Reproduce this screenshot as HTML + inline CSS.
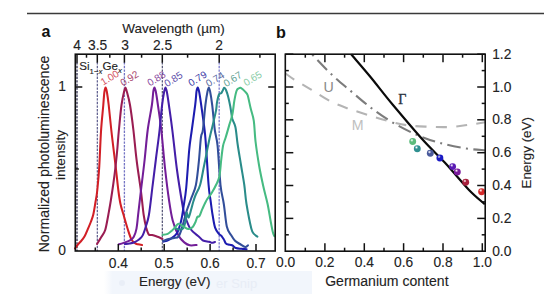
<!DOCTYPE html>
<html><head><meta charset="utf-8"><style>
html,body{margin:0;padding:0;background:#fff;width:547px;height:294px;overflow:hidden}
svg{display:block}
text{font-family:"Liberation Sans", sans-serif}
text.t{stroke:#2a2a2a;stroke-width:0.12px}
</style></head><body><svg width="547" height="294" viewBox="0 0 547 294" font-family='"Liberation Sans", sans-serif'><defs><radialGradient id="g0" cx="0.38" cy="0.32" r="0.7"><stop offset="0" stop-color="#ffffff" stop-opacity="0.85"/><stop offset="0.35" stop-color="#5cbb7c"/><stop offset="1" stop-color="#5cbb7c"/></radialGradient><radialGradient id="g1" cx="0.38" cy="0.32" r="0.7"><stop offset="0" stop-color="#ffffff" stop-opacity="0.85"/><stop offset="0.35" stop-color="#2f9090"/><stop offset="1" stop-color="#2f9090"/></radialGradient><radialGradient id="g2" cx="0.38" cy="0.32" r="0.7"><stop offset="0" stop-color="#ffffff" stop-opacity="0.85"/><stop offset="0.35" stop-color="#4a5a9c"/><stop offset="1" stop-color="#4a5a9c"/></radialGradient><radialGradient id="g3" cx="0.38" cy="0.32" r="0.7"><stop offset="0" stop-color="#ffffff" stop-opacity="0.85"/><stop offset="0.35" stop-color="#1a1ac4"/><stop offset="1" stop-color="#1a1ac4"/></radialGradient><radialGradient id="g4" cx="0.38" cy="0.32" r="0.7"><stop offset="0" stop-color="#ffffff" stop-opacity="0.85"/><stop offset="0.35" stop-color="#5a1ab4"/><stop offset="1" stop-color="#5a1ab4"/></radialGradient><radialGradient id="g5" cx="0.38" cy="0.32" r="0.7"><stop offset="0" stop-color="#ffffff" stop-opacity="0.85"/><stop offset="0.35" stop-color="#7a1a9c"/><stop offset="1" stop-color="#7a1a9c"/></radialGradient><radialGradient id="g6" cx="0.38" cy="0.32" r="0.7"><stop offset="0" stop-color="#ffffff" stop-opacity="0.85"/><stop offset="0.35" stop-color="#a8203c"/><stop offset="1" stop-color="#a8203c"/></radialGradient><radialGradient id="g7" cx="0.38" cy="0.32" r="0.7"><stop offset="0" stop-color="#ffffff" stop-opacity="0.85"/><stop offset="0.35" stop-color="#d42a2a"/><stop offset="1" stop-color="#d42a2a"/></radialGradient></defs><defs><linearGradient id="wmg" x1="0" x2="1" y1="0" y2="0"><stop offset="0" stop-color="#f4f7fc" stop-opacity="0"/><stop offset="0.04" stop-color="#f2f6fc"/><stop offset="1" stop-color="#f2f6fc"/></linearGradient></defs><rect x="104" y="271" width="208" height="23" fill="url(#wmg)"/><circle cx="122" cy="283" r="3" fill="#e9eef7"/><text x="216" y="288" font-size="13" fill="#e8edf6">er Snip</text><line x1="27" y1="13.5" x2="544" y2="13.5" stroke="#3a3a3a" stroke-width="1.4"/><text x="41.6" y="36.7" font-size="16" font-weight="bold" fill="#111">a</text><text x="275.9" y="37.7" font-size="16.2" font-weight="bold" fill="#111">b</text><text x="122.2" y="33.2" font-size="13.5" fill="#222" class="t">Wavelength (µm)</text><line x1="77.0" y1="62.2" x2="77.0" y2="251.0" stroke="#2e2e50" stroke-width="1.3" stroke-dasharray="2.4,1.2"/><line x1="97.3" y1="62.2" x2="97.3" y2="251.0" stroke="#4a4a80" stroke-width="1.1" stroke-dasharray="2.4,1.2"/><line x1="124.4" y1="62.2" x2="124.4" y2="251.0" stroke="#7474c4" stroke-width="1.3" stroke-dasharray="2.4,1.2"/><line x1="162.3" y1="62.2" x2="162.3" y2="251.0" stroke="#404066" stroke-width="1.1" stroke-dasharray="2.4,1.2"/><line x1="219.2" y1="62.2" x2="219.2" y2="251.0" stroke="#8686d2" stroke-width="1.4" stroke-dasharray="2.4,1.2"/><path d="M75.0,248.5 C75.4,247.9 76.5,246.2 77.5,245.0 C78.5,243.8 79.5,242.9 80.7,241.5 C81.9,240.1 83.4,238.4 84.5,236.5 C85.6,234.6 86.5,232.3 87.5,229.9 C88.5,227.5 89.8,224.6 90.8,222.0 C91.8,219.4 92.5,217.7 93.3,214.4 C94.1,211.1 94.8,206.1 95.5,202.0 C96.2,197.9 96.7,196.0 97.3,190.0 C97.9,184.0 98.7,176.0 99.3,166.0 C99.9,156.0 100.4,140.2 101.1,130.0 C101.8,119.8 102.8,111.3 103.3,105.0 C103.8,98.7 104.0,94.9 104.4,92.0 C104.8,89.1 105.2,87.4 105.6,87.4 C106.0,87.4 106.4,89.1 106.9,92.0 C107.4,94.9 108.0,98.7 108.7,105.0 C109.4,111.3 110.2,119.8 111.3,130.0 C112.4,140.2 114.4,156.0 115.6,166.0 C116.8,176.0 117.5,183.7 118.3,190.0 C119.1,196.3 119.6,199.8 120.5,204.0 C121.4,208.2 122.3,210.7 123.6,215.0 C124.8,219.3 126.7,225.9 128.0,230.0 C129.3,234.1 130.3,237.3 131.5,239.5 C132.7,241.7 133.9,242.4 135.0,243.2 C136.1,244.0 136.8,244.0 138.0,244.3 C139.2,244.6 141.3,244.9 142.0,245.0" fill="none" stroke="#d21f26" stroke-width="2.05" stroke-linejoin="round" stroke-linecap="round"/><path d="M97.0,244.0 C97.7,242.9 99.6,239.8 101.0,237.5 C102.4,235.2 104.0,233.8 105.2,230.0 C106.4,226.2 107.3,220.0 108.3,215.0 C109.2,210.0 110.1,205.2 110.9,200.0 C111.7,194.8 112.5,189.7 113.3,184.0 C114.1,178.3 114.9,172.2 115.6,166.0 C116.3,159.8 117.0,153.0 117.5,147.0 C118.0,141.0 118.2,137.0 118.9,130.0 C119.6,123.0 120.6,111.4 121.5,105.0 C122.4,98.6 123.4,94.4 124.1,91.5 C124.8,88.6 125.0,87.4 125.4,87.4 C125.9,87.4 126.0,88.6 126.8,91.5 C127.6,94.4 128.9,98.6 130.0,105.0 C131.1,111.4 132.3,120.8 133.4,130.0 C134.5,139.2 135.3,149.9 136.6,160.0 C137.8,170.1 139.7,181.6 140.9,190.8 C142.1,200.0 142.8,208.8 143.7,215.0 C144.6,221.2 145.5,224.8 146.3,228.0 C147.2,231.2 147.8,233.3 148.8,234.5 C149.8,235.7 150.7,234.6 152.2,235.0 C153.7,235.4 155.9,236.2 157.6,236.8 C159.3,237.4 161.6,238.5 162.4,238.8" fill="none" stroke="#9a1d52" stroke-width="2.05" stroke-linejoin="round" stroke-linecap="round"/><path d="M118.8,244.3 C119.6,244.1 121.7,243.6 123.6,242.9 C125.5,242.2 128.7,241.2 130.4,240.2 C132.1,239.2 132.8,238.7 133.8,236.8 C134.8,234.9 135.8,232.2 136.5,228.6 C137.2,225.0 137.4,221.3 138.1,215.0 C138.8,208.7 139.8,200.0 140.9,190.8 C142.0,181.6 143.5,170.1 144.6,160.0 C145.7,149.9 146.5,139.2 147.7,130.0 C148.9,120.8 151.0,111.4 151.9,105.0 C152.8,98.6 152.9,94.4 153.3,91.5 C153.7,88.6 154.1,87.4 154.5,87.4 C154.9,87.4 155.2,88.6 155.8,91.5 C156.4,94.4 157.0,98.6 157.9,105.0 C158.8,111.4 160.1,119.5 161.3,130.0 C162.5,140.5 163.7,156.3 165.0,168.0 C166.3,179.7 167.7,191.2 169.0,200.0 C170.3,208.8 171.1,214.5 172.7,220.5 C174.3,226.5 176.6,232.1 178.6,235.8 C180.6,239.5 182.7,241.0 184.6,242.6 C186.5,244.2 187.8,244.9 189.8,245.3 C191.8,245.7 195.5,245.1 196.6,245.0" fill="none" stroke="#731e98" stroke-width="2.05" stroke-linejoin="round" stroke-linecap="round"/><path d="M125.0,244.0 C125.8,243.9 127.9,243.8 129.5,243.5 C131.1,243.2 132.9,242.9 134.5,242.2 C136.1,241.5 137.6,240.6 139.0,239.5 C140.4,238.4 141.5,237.7 142.7,235.4 C143.9,233.2 145.0,229.4 146.0,226.0 C147.0,222.6 147.8,221.3 148.9,215.0 C150.0,208.7 151.2,197.2 152.3,188.0 C153.5,178.8 154.6,169.7 155.8,160.0 C157.0,150.3 158.6,139.2 159.6,130.0 C160.6,120.8 161.3,111.4 162.1,105.0 C162.9,98.6 163.6,94.4 164.2,91.5 C164.8,88.6 165.1,87.4 165.5,87.4 C165.9,87.4 166.2,88.6 166.8,91.5 C167.4,94.4 168.0,98.6 168.9,105.0 C169.8,111.4 171.0,119.2 172.3,130.0 C173.7,140.8 175.3,157.3 177.0,170.0 C178.7,182.7 181.4,198.6 182.7,206.3 C184.0,214.0 183.7,212.2 185.0,216.0 C186.3,219.8 188.2,225.6 190.5,229.0 C192.8,232.4 196.9,234.8 199.0,236.7 C201.1,238.6 201.3,239.7 203.0,240.5 C204.7,241.3 207.7,241.4 209.2,241.8 C210.7,242.2 211.0,242.8 212.0,242.8 C213.0,242.8 214.5,242.1 215.0,242.0" fill="none" stroke="#441ea8" stroke-width="2.05" stroke-linejoin="round" stroke-linecap="round"/><path d="M163.4,241.6 C164.0,241.4 165.7,241.1 166.8,240.7 C167.9,240.3 168.4,240.4 170.1,239.2 C171.8,238.0 175.1,236.4 176.9,233.3 C178.8,230.2 180.1,225.0 181.2,220.5 C182.3,216.0 182.8,211.7 183.6,206.3 C184.4,200.9 185.3,197.4 186.2,188.0 C187.1,178.6 188.3,159.7 189.2,150.0 C190.1,140.3 190.8,137.5 191.8,130.0 C192.8,122.5 194.4,111.4 195.2,105.0 C196.0,98.6 196.1,94.4 196.5,91.5 C196.9,88.6 197.4,87.4 197.8,87.4 C198.2,87.4 198.5,88.6 199.1,91.5 C199.7,94.4 200.3,98.6 201.2,105.0 C202.1,111.4 203.8,123.2 204.6,130.0 C205.4,136.8 205.3,136.8 206.0,146.0 C206.7,155.2 207.8,176.0 208.6,185.0 C209.3,194.0 209.8,195.0 210.5,200.0 C211.2,205.0 211.8,210.4 212.6,215.0 C213.4,219.6 214.0,224.4 215.1,227.6 C216.2,230.8 217.8,232.5 218.9,233.9 C220.0,235.3 220.6,234.9 221.4,235.8 C222.2,236.8 223.2,238.3 223.9,239.6 C224.6,240.8 225.1,242.5 225.8,243.3 C226.5,244.1 227.2,244.3 228.3,244.6 C229.4,244.9 230.8,244.6 232.1,245.2 C233.4,245.8 234.3,247.4 235.9,248.0 C237.5,248.6 239.7,248.6 241.5,248.8 C243.3,249.0 245.8,249.1 246.6,249.2" fill="none" stroke="#1c1cb0" stroke-width="2.05" stroke-linejoin="round" stroke-linecap="round"/><path d="M163.0,241.0 C163.9,240.7 166.7,239.5 168.5,239.0 C170.3,238.5 172.3,238.4 174.0,238.0 C175.7,237.6 177.3,238.3 178.7,236.3 C180.1,234.3 181.2,230.1 182.5,226.0 C183.8,221.9 185.0,216.3 186.4,211.8 C187.8,207.3 189.4,203.5 191.0,199.0 C192.6,194.5 194.6,191.5 195.9,185.0 C197.2,178.5 198.2,168.0 199.0,160.0 C199.8,152.0 200.3,142.0 201.0,137.0 C201.7,132.0 202.2,135.3 202.9,130.0 C203.6,124.7 204.6,111.4 205.4,105.0 C206.2,98.6 206.9,94.4 207.5,91.5 C208.1,88.6 208.4,87.4 208.8,87.4 C209.2,87.4 209.5,88.6 210.1,91.5 C210.7,94.4 211.4,98.6 212.2,105.0 C213.0,111.4 213.9,123.2 214.8,130.0 C215.7,136.8 216.7,136.8 217.6,146.0 C218.5,155.2 219.5,175.3 220.5,185.0 C221.5,194.7 222.8,197.1 223.8,204.0 C224.9,210.9 225.6,221.3 226.8,226.5 C228.0,231.7 229.6,232.6 231.0,235.0 C232.4,237.4 233.5,239.3 235.0,240.8 C236.5,242.3 238.3,243.0 240.0,244.0 C241.7,245.0 243.9,246.8 245.2,247.0 C246.5,247.2 247.5,245.6 248.0,245.3" fill="none" stroke="#324e9a" stroke-width="2.05" stroke-linejoin="round" stroke-linecap="round"/><path d="M175.0,228.0 C175.7,228.2 177.8,229.4 179.1,229.5 C180.4,229.6 181.8,229.8 182.9,228.5 C184.0,227.2 184.8,224.7 185.4,222.0 C186.0,219.3 186.1,213.2 186.6,212.5 C187.1,211.8 187.9,217.9 188.6,217.5 C189.3,217.1 190.2,212.8 191.0,210.0 C191.8,207.2 192.7,203.5 193.5,201.0 C194.3,198.5 194.5,197.7 195.6,195.0 C196.7,192.3 198.7,189.8 200.1,185.0 C201.5,180.2 202.7,172.3 204.0,166.0 C205.3,159.7 206.8,152.1 207.8,146.9 C208.9,141.7 209.4,138.8 210.3,135.0 C211.2,131.2 212.1,128.1 213.0,124.0 C213.9,119.9 215.3,114.2 216.0,110.6 C216.7,107.0 216.5,105.1 217.0,102.4 C217.5,99.7 218.4,95.8 219.1,94.3 C219.8,92.8 220.5,93.8 221.1,93.3 C221.7,92.8 222.0,91.9 222.5,91.0 C223.0,90.1 223.6,88.0 224.2,87.8 C224.8,87.6 225.3,88.4 226.0,90.0 C226.7,91.6 227.6,94.5 228.3,97.3 C229.0,100.0 229.6,102.9 230.3,106.5 C231.0,110.1 231.5,115.4 232.3,118.8 C233.2,122.2 234.5,122.8 235.4,127.0 C236.3,131.2 236.7,137.7 237.6,144.0 C238.5,150.3 239.9,158.2 241.0,165.0 C242.1,171.8 243.4,178.5 244.3,185.0 C245.2,191.5 245.3,196.7 246.5,204.0 C247.7,211.3 250.1,223.6 251.3,228.6 C252.6,233.6 253.0,232.7 254.0,234.0 C255.0,235.3 256.8,236.2 257.4,236.7" fill="none" stroke="#2a8c8a" stroke-width="2.05" stroke-linejoin="round" stroke-linecap="round"/><path d="M162.6,234.8 C163.4,234.7 166.2,234.6 167.7,233.9 C169.2,233.2 170.5,231.8 171.8,230.7 C173.1,229.5 174.2,228.2 175.3,227.0 C176.4,225.8 177.1,223.8 178.4,223.7 C179.7,223.6 181.5,225.4 183.2,226.3 C184.9,227.2 187.0,228.9 188.6,229.0 C190.2,229.1 191.6,228.1 192.7,227.0 C193.8,225.9 194.6,223.9 195.4,222.2 C196.2,220.5 196.7,217.8 197.4,216.8 C198.1,215.8 198.7,217.5 199.5,216.1 C200.3,214.7 201.2,211.4 202.5,208.6 C203.8,205.8 205.5,202.0 207.1,199.3 C208.7,196.7 210.3,195.1 211.8,192.7 C213.3,190.3 214.8,187.7 216.0,185.0 C217.2,182.3 218.4,181.0 219.3,176.8 C220.2,172.6 220.6,165.1 221.2,160.0 C221.8,154.9 222.3,149.7 223.0,146.0 C223.7,142.3 224.4,141.5 225.5,138.0 C226.6,134.5 228.2,128.8 229.3,124.9 C230.4,121.0 231.5,118.8 232.3,114.7 C233.2,110.6 233.7,104.4 234.4,100.4 C235.1,96.5 235.8,93.0 236.5,91.0 C237.2,89.0 237.8,89.0 238.5,88.5 C239.2,88.0 239.8,87.6 240.5,87.8 C241.2,88.0 242.2,88.8 243.0,89.5 C243.8,90.2 244.8,91.2 245.6,92.2 C246.4,93.2 246.8,92.6 247.7,95.3 C248.5,98.0 249.7,104.3 250.7,108.6 C251.7,112.8 253.0,115.2 253.8,120.8 C254.6,126.4 254.7,134.6 255.6,142.0 C256.5,149.4 257.8,157.8 259.0,165.0 C260.2,172.2 261.6,178.5 263.0,185.0 C264.4,191.5 266.3,197.8 267.6,204.0 C268.9,210.2 269.9,217.3 270.8,222.0 C271.7,226.7 272.2,229.6 272.8,232.0 C273.4,234.4 274.1,235.5 274.4,236.2" fill="none" stroke="#46bb82" stroke-width="2.05" stroke-linejoin="round" stroke-linecap="round"/><text x="103.2" y="85.8" font-size="10" fill="#d45262" transform="rotate(-32 103.2 85.8)">1.00</text><text x="123.0" y="86.4" font-size="10" fill="#a84870" transform="rotate(-32 123.0 86.4)">0.92</text><text x="150.0" y="86.6" font-size="10" fill="#8a4aa0" transform="rotate(-32 150.0 86.6)">0.88</text><text x="167.0" y="87.2" font-size="10" fill="#5e4eaa" transform="rotate(-32 167.0 87.2)">0.85</text><text x="191.1" y="86.7" font-size="10" fill="#3a3aa6" transform="rotate(-32 191.1 86.7)">0.79</text><text x="208.6" y="87.3" font-size="10" fill="#58689e" transform="rotate(-32 208.6 87.3)">0.74</text><text x="226.3" y="87.2" font-size="10" fill="#62a294" transform="rotate(-32 226.3 87.2)">0.67</text><text x="246.3" y="86.5" font-size="10" fill="#88cca6" transform="rotate(-32 246.3 86.5)">0.65</text><text x="79.3" y="69.8" font-size="11.6" fill="#222" class="t">Si<tspan font-size="7.8" dy="3.8">1−<tspan font-style="italic">x</tspan></tspan><tspan dy="-3.8">Ge</tspan><tspan font-size="7.8" dy="3.0" font-style="italic">x</tspan></text><rect x="75.3" y="54.2" width="199.9" height="196.8" fill="none" stroke="#111" stroke-width="1.6"/><line x1="95.3" y1="251.0" x2="95.3" y2="247.5" stroke="#111" stroke-width="1.5"/><line x1="118.3" y1="251.0" x2="118.3" y2="244.0" stroke="#111" stroke-width="1.5"/><line x1="141.2" y1="251.0" x2="141.2" y2="247.5" stroke="#111" stroke-width="1.5"/><line x1="164.2" y1="251.0" x2="164.2" y2="244.0" stroke="#111" stroke-width="1.5"/><line x1="187.2" y1="251.0" x2="187.2" y2="247.5" stroke="#111" stroke-width="1.5"/><line x1="210.1" y1="251.0" x2="210.1" y2="244.0" stroke="#111" stroke-width="1.5"/><line x1="233.1" y1="251.0" x2="233.1" y2="247.5" stroke="#111" stroke-width="1.5"/><line x1="256.0" y1="251.0" x2="256.0" y2="244.0" stroke="#111" stroke-width="1.5"/><line x1="77.0" y1="54.2" x2="77.0" y2="62.7" stroke="#111" stroke-width="1.5"/><line x1="86.5" y1="54.2" x2="86.5" y2="57.7" stroke="#111" stroke-width="1.5"/><line x1="97.3" y1="54.2" x2="97.3" y2="62.7" stroke="#111" stroke-width="1.5"/><line x1="109.8" y1="54.2" x2="109.8" y2="57.7" stroke="#111" stroke-width="1.5"/><line x1="124.4" y1="54.2" x2="124.4" y2="62.7" stroke="#111" stroke-width="1.5"/><line x1="141.6" y1="54.2" x2="141.6" y2="57.7" stroke="#111" stroke-width="1.5"/><line x1="162.3" y1="54.2" x2="162.3" y2="62.7" stroke="#111" stroke-width="1.5"/><line x1="187.6" y1="54.2" x2="187.6" y2="57.7" stroke="#111" stroke-width="1.5"/><line x1="219.2" y1="54.2" x2="219.2" y2="62.7" stroke="#111" stroke-width="1.5"/><line x1="259.9" y1="54.2" x2="259.9" y2="57.7" stroke="#111" stroke-width="1.5"/><line x1="75.3" y1="87.0" x2="82.3" y2="87.0" stroke="#111" stroke-width="1.5"/><line x1="275.2" y1="87.0" x2="268.2" y2="87.0" stroke="#111" stroke-width="1.5"/><line x1="75.3" y1="169.0" x2="78.8" y2="169.0" stroke="#111" stroke-width="1.5"/><line x1="275.2" y1="169.0" x2="271.7" y2="169.0" stroke="#111" stroke-width="1.5"/><text x="77.1" y="49.6" font-size="13.8" fill="#222" class="t" text-anchor="middle">4</text><text x="97.6" y="49.6" font-size="13.8" fill="#222" class="t" text-anchor="middle">3.5</text><text x="125.0" y="49.6" font-size="13.8" fill="#222" class="t" text-anchor="middle">3</text><text x="162.5" y="49.6" font-size="13.8" fill="#222" class="t" text-anchor="middle">2.5</text><text x="219.2" y="49.6" font-size="13.8" fill="#222" class="t" text-anchor="middle">2</text><text x="118.3" y="267.6" font-size="13.8" fill="#222" class="t" text-anchor="middle">0.4</text><text x="164.2" y="267.6" font-size="13.8" fill="#222" class="t" text-anchor="middle">0.5</text><text x="210.1" y="267.6" font-size="13.8" fill="#222" class="t" text-anchor="middle">0.6</text><text x="256.0" y="267.6" font-size="13.8" fill="#222" class="t" text-anchor="middle">0.7</text><text x="66" y="91" font-size="13.8" fill="#222" class="t" text-anchor="end">1</text><text x="66" y="255" font-size="13.8" fill="#222" class="t" text-anchor="end">0</text><text x="139" y="285.6" font-size="13.4" fill="#222" class="t">Energy (eV)</text><text transform="translate(48.6,154) rotate(-90)" font-size="14.1" fill="#222" class="t" text-anchor="middle">Normalized photoluminescence</text><text transform="translate(64.9,155) rotate(-90)" font-size="13.7" fill="#222" class="t" text-anchor="middle">intensity</text><path d="M285.3,73.3 C286.8,74.3 289.8,76.8 294.2,79.6 C298.6,82.3 305.5,86.1 311.6,89.8 C317.7,93.5 324.9,98.5 331.0,101.6 C337.1,104.7 342.3,106.4 348.4,108.6 C354.5,110.8 361.2,112.8 367.8,114.9 C374.4,117.0 381.6,119.3 388.2,121.0 C394.8,122.7 400.5,124.3 407.2,125.3 C413.9,126.2 421.3,126.4 428.3,126.7 C435.3,127.0 442.6,127.3 449.4,127.0 C456.1,126.7 462.8,125.6 468.8,124.8 C474.8,124.0 482.5,122.7 485.2,122.3" fill="none" stroke="#b4b4b4" stroke-width="2.1" stroke-dasharray="11,9.3"/><path d="M311.5,53.7 C314.7,57.1 324.4,67.6 330.9,73.8 C337.4,80.0 343.9,85.2 350.6,90.9 C357.3,96.6 364.1,102.6 371.0,107.8 C377.9,113.0 384.7,117.8 392.2,122.2 C399.7,126.7 408.0,131.0 416.0,134.5 C424.0,138.0 431.6,140.7 440.0,143.0 C448.4,145.3 458.8,147.3 466.3,148.5 C473.8,149.7 482.1,150.0 485.2,150.3" fill="none" stroke="#7c7c7c" stroke-width="2.1" stroke-dasharray="13.5,5.35,2,5.35" stroke-dashoffset="17.35"/><path d="M351.2,54.3 C354.4,58.1 363.5,68.5 370.5,77.0 C377.5,85.5 384.2,94.5 393.0,105.0 C401.8,115.5 414.3,130.4 423.0,140.0 C431.7,149.6 437.3,154.5 445.0,162.8 C452.7,171.1 462.4,183.1 469.0,190.0 C475.6,196.9 482.2,201.8 484.8,204.2" fill="none" stroke="#0a0a0a" stroke-width="2.2"/><text x="323.6" y="92" font-size="14.2" fill="#888888">U</text><text x="351.8" y="129.8" font-size="14.2" fill="#c0c0c0">M</text><text x="398.3" y="103.8" font-size="14" font-family="Liberation Serif, serif" style="font-family:'Liberation Serif', serif" fill="#2a3440" stroke="#2a3440" stroke-width="0.35">Γ</text><circle cx="412.7" cy="141.5" r="3.45" fill="url(#g0)"/><circle cx="417.3" cy="148.7" r="3.45" fill="url(#g1)"/><circle cx="430.3" cy="153.3" r="3.45" fill="url(#g2)"/><circle cx="439.9" cy="158.0" r="3.45" fill="url(#g3)"/><circle cx="452.6" cy="166.6" r="3.45" fill="url(#g4)"/><circle cx="457.3" cy="171.9" r="3.45" fill="url(#g5)"/><circle cx="465.7" cy="182.2" r="3.45" fill="url(#g6)"/><circle cx="481.6" cy="191.7" r="3.45" fill="url(#g7)"/><rect x="285.3" y="54.2" width="199.9" height="197.0" fill="none" stroke="#111" stroke-width="1.6"/><line x1="305.3" y1="251.2" x2="305.3" y2="247.7" stroke="#111" stroke-width="1.5"/><line x1="305.3" y1="54.2" x2="305.3" y2="57.7" stroke="#111" stroke-width="1.5"/><line x1="324.9" y1="251.2" x2="324.9" y2="243.2" stroke="#111" stroke-width="1.5"/><line x1="324.9" y1="54.2" x2="324.9" y2="62.2" stroke="#111" stroke-width="1.5"/><line x1="344.6" y1="251.2" x2="344.6" y2="247.7" stroke="#111" stroke-width="1.5"/><line x1="344.6" y1="54.2" x2="344.6" y2="57.7" stroke="#111" stroke-width="1.5"/><line x1="364.3" y1="251.2" x2="364.3" y2="243.2" stroke="#111" stroke-width="1.5"/><line x1="364.3" y1="54.2" x2="364.3" y2="62.2" stroke="#111" stroke-width="1.5"/><line x1="384.0" y1="251.2" x2="384.0" y2="247.7" stroke="#111" stroke-width="1.5"/><line x1="384.0" y1="54.2" x2="384.0" y2="57.7" stroke="#111" stroke-width="1.5"/><line x1="403.6" y1="251.2" x2="403.6" y2="243.2" stroke="#111" stroke-width="1.5"/><line x1="403.6" y1="54.2" x2="403.6" y2="62.2" stroke="#111" stroke-width="1.5"/><line x1="423.3" y1="251.2" x2="423.3" y2="247.7" stroke="#111" stroke-width="1.5"/><line x1="423.3" y1="54.2" x2="423.3" y2="57.7" stroke="#111" stroke-width="1.5"/><line x1="443.0" y1="251.2" x2="443.0" y2="243.2" stroke="#111" stroke-width="1.5"/><line x1="443.0" y1="54.2" x2="443.0" y2="62.2" stroke="#111" stroke-width="1.5"/><line x1="462.6" y1="251.2" x2="462.6" y2="247.7" stroke="#111" stroke-width="1.5"/><line x1="462.6" y1="54.2" x2="462.6" y2="57.7" stroke="#111" stroke-width="1.5"/><line x1="482.3" y1="251.2" x2="482.3" y2="243.2" stroke="#111" stroke-width="1.5"/><line x1="482.3" y1="54.2" x2="482.3" y2="62.2" stroke="#111" stroke-width="1.5"/><line x1="285.3" y1="234.8" x2="288.8" y2="234.8" stroke="#111" stroke-width="1.5"/><line x1="485.2" y1="234.8" x2="481.7" y2="234.8" stroke="#111" stroke-width="1.5"/><line x1="285.3" y1="218.4" x2="293.3" y2="218.4" stroke="#111" stroke-width="1.5"/><line x1="485.2" y1="218.4" x2="477.2" y2="218.4" stroke="#111" stroke-width="1.5"/><line x1="285.3" y1="201.9" x2="288.8" y2="201.9" stroke="#111" stroke-width="1.5"/><line x1="485.2" y1="201.9" x2="481.7" y2="201.9" stroke="#111" stroke-width="1.5"/><line x1="285.3" y1="185.5" x2="293.3" y2="185.5" stroke="#111" stroke-width="1.5"/><line x1="485.2" y1="185.5" x2="477.2" y2="185.5" stroke="#111" stroke-width="1.5"/><line x1="285.3" y1="169.1" x2="288.8" y2="169.1" stroke="#111" stroke-width="1.5"/><line x1="485.2" y1="169.1" x2="481.7" y2="169.1" stroke="#111" stroke-width="1.5"/><line x1="285.3" y1="152.7" x2="293.3" y2="152.7" stroke="#111" stroke-width="1.5"/><line x1="485.2" y1="152.7" x2="477.2" y2="152.7" stroke="#111" stroke-width="1.5"/><line x1="285.3" y1="136.3" x2="288.8" y2="136.3" stroke="#111" stroke-width="1.5"/><line x1="485.2" y1="136.3" x2="481.7" y2="136.3" stroke="#111" stroke-width="1.5"/><line x1="285.3" y1="119.8" x2="293.3" y2="119.8" stroke="#111" stroke-width="1.5"/><line x1="485.2" y1="119.8" x2="477.2" y2="119.8" stroke="#111" stroke-width="1.5"/><line x1="285.3" y1="103.4" x2="288.8" y2="103.4" stroke="#111" stroke-width="1.5"/><line x1="485.2" y1="103.4" x2="481.7" y2="103.4" stroke="#111" stroke-width="1.5"/><line x1="285.3" y1="87.0" x2="293.3" y2="87.0" stroke="#111" stroke-width="1.5"/><line x1="485.2" y1="87.0" x2="477.2" y2="87.0" stroke="#111" stroke-width="1.5"/><line x1="285.3" y1="70.6" x2="288.8" y2="70.6" stroke="#111" stroke-width="1.5"/><line x1="485.2" y1="70.6" x2="481.7" y2="70.6" stroke="#111" stroke-width="1.5"/><line x1="285.3" y1="54.2" x2="293.3" y2="54.2" stroke="#111" stroke-width="1.5"/><line x1="485.2" y1="54.2" x2="477.2" y2="54.2" stroke="#111" stroke-width="1.5"/><text x="285.6" y="267.4" font-size="13.8" fill="#222" class="t" text-anchor="middle">0.0</text><text x="324.9" y="267.4" font-size="13.8" fill="#222" class="t" text-anchor="middle">0.2</text><text x="364.3" y="267.4" font-size="13.8" fill="#222" class="t" text-anchor="middle">0.4</text><text x="403.6" y="267.4" font-size="13.8" fill="#222" class="t" text-anchor="middle">0.6</text><text x="443.0" y="267.4" font-size="13.8" fill="#222" class="t" text-anchor="middle">0.8</text><text x="482.3" y="267.4" font-size="13.8" fill="#222" class="t" text-anchor="middle">1.0</text><text x="492.2" y="255.8" font-size="13.8" fill="#222" class="t">0.0</text><text x="492.2" y="223.0" font-size="13.8" fill="#222" class="t">0.2</text><text x="492.2" y="190.1" font-size="13.8" fill="#222" class="t">0.4</text><text x="492.2" y="157.3" font-size="13.8" fill="#222" class="t">0.6</text><text x="492.2" y="124.4" font-size="13.8" fill="#222" class="t">0.8</text><text x="492.2" y="91.6" font-size="13.8" fill="#222" class="t">1.0</text><text x="492.2" y="58.8" font-size="13.8" fill="#222" class="t">1.2</text><text x="325.2" y="285.8" font-size="14.05" fill="#222" class="t">Germanium content</text><text transform="translate(530.7,152.8) rotate(-90)" font-size="13.4" fill="#222" class="t" text-anchor="middle">Energy (eV)</text></svg></body></html>
